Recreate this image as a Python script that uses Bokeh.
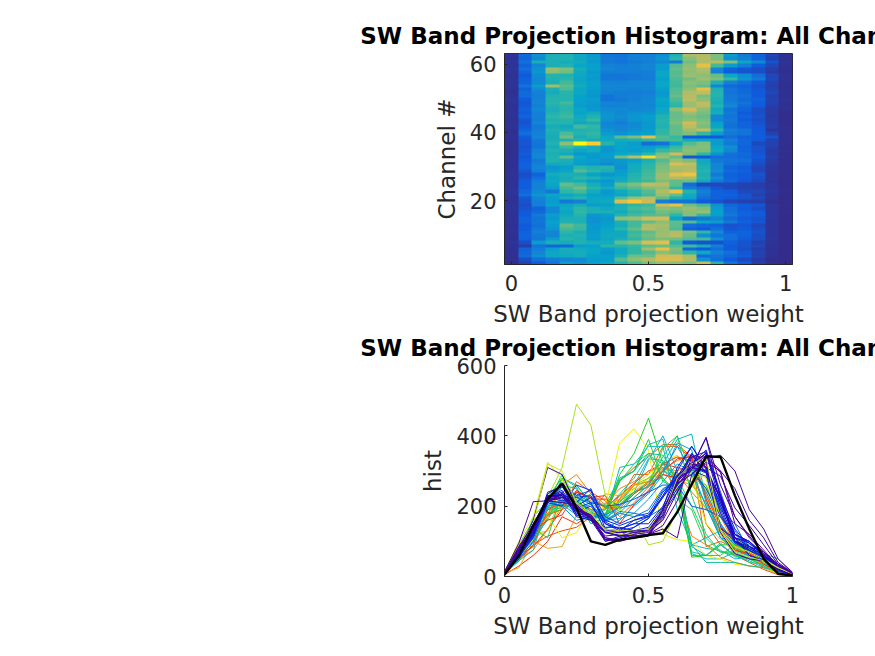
from bokeh.plotting import figure
from bokeh.layouts import column
from bokeh.models import FixedTicker, LinearColorMapper, Range1d
from bokeh.embed import file_html
from bokeh.resources import INLINE
import numpy as np

TITLE = "SW Band Projection Histogram: All Channels"
X_LABEL = "SW Band projection weight"
Y_LABEL_TOP = "Channel #"
Y_LABEL_BOTTOM = "hist"
BIN_CENTERS = [0, .05, .1, .15, .2, .25, .3, .35, .4, .45, .5, .55, .6, .65, .7, .75, .8, .85, .9, .95, 1]
TOP_Y_TICKS = [20, 40, 60]
BOTTOM_Y_TICKS = [0, 200, 400, 600]

# Histogram counts, top row of the image first
HIST_ROWS = [
 [12,85,150,215,225,195,165,105,100,115,120,145,215,340,340,295,170,110,70,35,10],
 [10,80,140,220,225,195,170,110,105,120,125,160,240,305,345,300,150,120,75,30,8],
 [14,95,213,215,210,205,165,110,100,110,120,135,110,290,335,345,300,190,135,50,12],
 [12,75,135,215,225,190,175,125,115,125,130,170,270,310,395,260,170,115,65,35,10],
 [15,90,150,320,300,210,180,130,120,120,130,170,280,320,340,130,70,55,45,25,8],
 [12,75,160,310,290,200,165,115,120,115,120,190,270,310,330,125,65,50,45,20,6],
 [10,60,145,230,225,195,170,105,105,110,115,190,275,320,310,285,195,145,90,35,10],
 [12,70,135,225,235,190,165,105,105,110,115,175,265,290,325,300,250,160,110,40,10],
 [13,75,140,215,260,195,175,125,125,130,130,190,260,310,300,220,120,95,60,30,8],
 [12,100,170,325,275,205,175,135,130,130,135,190,255,300,280,130,85,70,50,25,6],
 [10,70,145,220,265,190,170,130,130,125,130,175,270,310,395,220,100,80,55,30,8],
 [9,85,125,210,235,195,165,125,115,115,120,165,275,340,355,230,100,85,60,35,9],
 [11,85,120,225,230,185,160,100,115,120,130,170,285,345,295,230,110,95,60,28,8],
 [14,65,125,230,230,180,170,100,110,120,130,190,265,350,310,220,110,85,70,30,10],
 [12,55,130,235,260,175,165,130,125,130,135,185,250,320,350,210,120,100,65,30,8],
 [10,60,120,225,240,170,160,125,125,130,130,180,240,320,350,230,135,85,60,25,7],
 [10,70,135,215,235,190,165,140,140,130,140,195,310,370,310,200,100,75,45,20,6],
 [12,65,120,225,245,185,200,150,135,150,150,200,285,325,295,210,110,60,45,20,5],
 [13,75,120,240,255,200,225,160,145,160,175,225,285,300,285,140,100,70,50,18,5],
 [11,55,115,225,235,210,250,150,130,160,170,230,290,310,295,135,110,60,45,22,6],
 [10,50,130,230,230,195,210,130,115,140,165,230,300,370,305,180,100,75,50,20,5],
 [12,60,110,210,200,260,245,135,130,140,165,225,280,350,295,190,95,75,55,25,7],
 [8,75,115,225,215,225,230,155,135,150,170,240,280,320,360,240,120,100,60,15,6],
 [9,90,125,215,265,230,245,170,150,170,180,245,280,300,250,170,110,100,60,30,8],
 [10,65,130,210,290,210,235,195,275,300,390,270,250,60,60,60,90,70,65,50,8],
 [8,55,110,215,225,235,210,200,205,220,240,260,260,200,190,170,120,80,60,30,6],
 [8,55,105,225,310,490,430,230,190,170,90,100,190,270,300,170,110,80,40,30,6],
 [7,50,100,210,255,225,205,160,185,180,170,195,250,300,305,190,150,70,50,25,5],
 [8,55,120,225,220,190,205,155,180,170,190,250,270,310,300,200,130,75,50,22,6],
 [8,65,130,215,200,160,170,175,195,205,240,300,370,300,240,150,95,85,55,20,5],
 [9,55,135,225,280,195,165,175,290,350,450,320,280,55,60,90,90,80,60,25,6],
 [10,65,110,225,215,180,175,160,165,180,220,270,320,300,200,110,100,90,50,20,5],
 [9,70,120,200,205,175,160,135,160,200,235,290,380,360,210,130,90,80,45,18,5],
 [10,70,130,160,175,240,225,230,150,205,245,300,335,340,220,130,75,65,35,15,4],
 [10,55,115,175,190,270,240,215,170,210,255,305,330,345,230,145,85,70,35,15,4],
 [12,45,75,205,215,215,185,160,180,225,260,320,390,405,220,110,70,60,50,12,4],
 [11,50,90,190,210,240,225,195,195,235,265,320,340,330,230,140,75,60,45,15,4],
 [11,60,115,200,215,205,175,160,205,240,255,300,280,290,200,110,80,55,40,12,3],
 [10,65,125,190,280,260,210,175,275,300,350,345,280,90,40,40,40,30,25,15,3],
 [13,65,125,175,260,290,235,205,250,270,300,310,240,115,90,55,40,30,25,15,3],
 [14,80,135,110,240,260,205,165,200,235,270,340,400,230,120,70,65,40,35,18,4],
 [12,90,160,190,195,210,180,170,190,225,260,320,280,200,110,70,70,50,30,15,3],
 [11,55,130,175,215,230,190,190,270,320,350,280,220,190,90,70,60,50,40,15,3],
 [10,50,120,170,110,125,195,200,380,420,360,120,105,100,60,50,35,30,25,8,2],
 [12,45,120,180,190,210,170,180,215,240,255,365,400,290,260,150,80,65,55,15,4],
 [13,50,75,135,200,240,215,200,220,260,270,310,300,320,300,170,90,60,45,15,3],
 [12,60,85,135,190,245,220,220,200,240,255,290,280,305,320,180,95,70,60,15,4],
 [11,60,110,175,200,230,160,175,230,260,270,280,240,305,250,175,110,75,60,15,3],
 [10,70,100,165,215,220,150,165,310,320,370,370,190,90,110,130,85,60,50,15,3],
 [10,70,105,180,225,220,150,170,215,260,280,310,280,270,190,170,110,70,55,12,3],
 [9,60,95,170,280,255,165,175,210,260,335,330,275,90,80,75,50,55,40,12,3],
 [10,65,110,160,260,250,165,190,235,280,345,320,265,70,60,95,55,60,45,15,3],
 [10,70,120,130,240,215,170,195,200,250,280,320,340,300,245,140,70,75,50,12,3],
 [9,75,110,130,220,225,175,200,200,260,290,325,345,285,150,105,90,70,45,12,3],
 [9,70,105,170,230,220,170,195,215,240,280,300,290,270,260,150,90,65,45,15,3],
 [12,45,170,215,210,225,210,205,280,300,375,390,240,65,50,50,70,50,30,12,3],
 [10,25,100,80,85,175,180,235,230,250,280,290,275,260,210,120,60,50,35,10,2],
 [8,70,115,175,210,200,190,175,200,240,330,400,300,85,60,90,60,45,25,8,2],
 [8,80,130,195,205,210,190,165,200,240,270,310,290,240,195,125,90,55,30,10,2],
 [8,85,145,195,200,205,180,175,220,290,290,370,370,335,85,100,80,65,30,10,2],
 [6,45,90,115,130,140,170,175,270,310,340,375,375,340,150,90,60,40,20,5,2],
 [5,30,60,100,170,150,175,195,230,265,300,320,310,300,355,230,100,60,25,8,2],
]
BLACK_CURVE = [5,60,145,220,265,195,100,90,105,110,118,123,183,262,342,340,230,135,50,8,3]

PARULA = ["#352A87","#0F5CDD","#1481D6","#06A4CA","#2EB7A4","#87BF77","#D1BB59","#FEC832","#F9FB0E"]
LINE_ANCHORS = ["#500090","#3000b0","#1010d8","#0040f0","#00a0e0","#10c890","#40d820","#f0e000","#f03010"]
LINE_OVERRIDES = {4:"#c8e820",9:"#e0f000",24:"#10d040",26:"#a8e020",30:"#20d020",38:"#10c0a0",43:"#f0f000",
                  48:"#10b8c8",50:"#10b8c8",51:"#10c8b0",55:"#10c0b0",57:"#10b0d0",
                  33:"#f03010",34:"#ff6000",36:"#f04010",39:"#ff8000",45:"#ff9000",46:"#f02010"}
INK = "#262626"
FONT = "DejaVu Sans"
Y_LOW = 1.2


def ramp(anchors, n):
    rgb = np.array([[int(c[i:i + 2], 16) for i in (1, 3, 5)] for c in anchors], float)
    t = np.linspace(0, len(anchors) - 1, n)
    chans = [np.interp(t, np.arange(len(anchors)), rgb[:, k]) for k in range(3)]
    return ["#%02x%02x%02x" % tuple(int(round(c[i])) for c in chans) for i in range(n)]


def style(p):
    p.title.text_font = FONT
    p.title.text_font_size = "23px"
    p.title.text_font_style = "bold"
    p.title.text_color = "#000000"
    p.title.align = "center"
    p.grid.visible = False
    for ax in (p.xaxis[0], p.yaxis[0]):
        ax.axis_line_color = INK
        ax.major_tick_line_color = INK
        ax.major_tick_in = 3
        ax.major_tick_out = 0
        ax.minor_tick_line_color = None
        ax.major_label_text_font = FONT
        ax.major_label_text_font_size = "21px"
        ax.major_label_text_color = INK
        ax.axis_label_text_font = FONT
        ax.axis_label_text_font_size = "23px"
        ax.axis_label_text_font_style = "normal"
        ax.axis_label_text_color = INK
    p.xaxis[0].ticker = FixedTicker(ticks=[0, 0.5, 1])
    p.xaxis[0].major_label_overrides = {0: "0", 0.5: "0.5", 1: "1"}
    p.xaxis[0].major_label_standoff = 10
    p.xaxis[0].axis_label_standoff = 7
    p.yaxis[0].major_label_standoff = 8
    p.yaxis[0].axis_label_standoff = 7


matrix = np.array(HIST_ROWS, float)
n_ch = matrix.shape[0]
step = BIN_CENTERS[1] - BIN_CENTERS[0]

top = figure(width=875, height=330, output_backend="svg", toolbar_location=None, title=TITLE,
             x_range=Range1d(BIN_CENTERS[0] - step / 2, BIN_CENTERS[-1] + step / 2),
             y_range=Range1d(Y_LOW, n_ch + Y_LOW),
             min_border_left=504, min_border_right=83, min_border_top=53, min_border_bottom=66,
             x_axis_label=X_LABEL, y_axis_label=Y_LABEL_TOP)
mapper = LinearColorMapper(palette=ramp(PARULA, 256), low=0, high=matrix.max())
top.image(image=[matrix[::-1]], x=BIN_CENTERS[0] - step / 2, y=Y_LOW,
          dw=BIN_CENTERS[-1] - BIN_CENTERS[0] + step, dh=n_ch, color_mapper=mapper)
style(top)
top.yaxis[0].ticker = FixedTicker(ticks=TOP_Y_TICKS)
top.outline_line_color = INK

bottom = figure(width=875, height=330, output_backend="svg", toolbar_location=None, title=TITLE,
                x_range=Range1d(0, 1), y_range=Range1d(0, 600),
                min_border_left=504, min_border_right=83, min_border_top=39, min_border_bottom=80,
                x_axis_label=X_LABEL, y_axis_label=Y_LABEL_BOTTOM, margin=(-4, 0, 0, 0))
bottom.background_fill_color = None
bottom.border_fill_color = None
colors = ramp(LINE_ANCHORS, n_ch)
for i in range(n_ch - 1, -1, -1):
    bottom.line(BIN_CENTERS, HIST_ROWS[i], line_color=LINE_OVERRIDES.get(i, colors[i]), line_width=1)
bottom.line(BIN_CENTERS, BLACK_CURVE, line_color="#000000", line_width=2.4)
style(bottom)
bottom.yaxis[0].ticker = FixedTicker(ticks=BOTTOM_Y_TICKS)
bottom.outline_line_color = None

page = column(top, bottom, spacing=0)
open("out.html", "w").write(file_html(page, INLINE))
